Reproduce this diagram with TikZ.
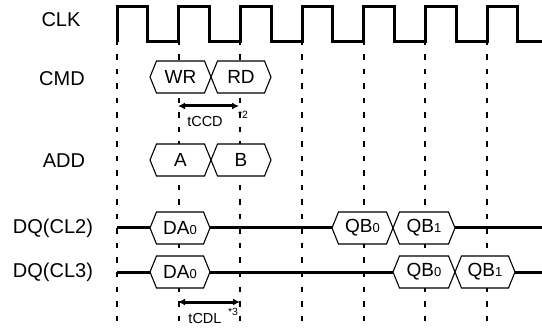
\documentclass[tikz,border=0pt]{standalone}
\usepackage{fontspec}
\setmainfont{Liberation Sans}
\usetikzlibrary{arrows.meta}
\tikzset{
  clkline/.style={line width=3pt, line join=miter},
  sigline/.style={line width=3pt},
  gridline/.style={line width=2.1pt, dash pattern=on 5.5pt off 9pt},
  boxline/.style={line width=1.1pt, fill=white, line join=miter},
  lbl/.style={font=\fontsize{20}{22}\selectfont, inner sep=0pt},
  boxtxt/.style={font=\fontsize{19}{21}\selectfont, inner sep=0pt},
  smalltxt/.style={font=\fontsize{14.5}{16}\selectfont, inner sep=0pt},
  notetxt/.style={font=\fontsize{10.5}{11}\selectfont, inner sep=0pt},
  timearrow/.style={line width=3pt, {Latex[length=7pt,width=7pt]}-{Latex[length=7pt,width=7pt]}},
}
\newcommand{\sdig}[1]{{\fontsize{13}{13}\selectfont #1}}
% hexagon: x1, x2, y, name, text
\newcommand{\hexbox}[5]{%
  \draw[boxline] (#1,#3) -- ({#1+6.5},{#3-16}) -- ({#2-6.5},{#3-16}) -- (#2,#3)
     -- ({#2-6.5},{#3+16}) -- ({#1+6.5},{#3+16}) -- cycle;
  \node[boxtxt] (#4) at ({(#1+#2)/2},#3) {#5};%
}
\begin{document}
\begin{tikzpicture}[x=1pt,y=-1pt]
\useasboundingbox (0,0) rectangle (542,329);
% dashed grid lines
\foreach \k in {0,...,6} {
  \draw[gridline] ({117+61.67*\k},40) -- ({117+61.67*\k},322);
}
% clock
\draw[clkline] (117,42)
  \foreach \k in {0,...,6} {
    -- ({117+61.67*\k},7) -- ({147.8+61.67*\k},7) -- ({147.8+61.67*\k},41.5)
    -- ({117+61.67*(\k+1)},41.5)
  } -- (541,41.5);
% labels
\node[lbl] (lclk) at (61,19.5) {CLK};
\node[lbl] (lcmd) at (62,79) {CMD};
\node[lbl] (ladd) at (64,161) {ADD};
\node[lbl] (lcl2) at (53,228.5) {DQ(CL2)};
\node[lbl] (lcl3) at (53,272.5) {DQ(CL3)};
% signal lines
\draw[sigline] (117,228) -- (150,228);
\draw[sigline] (210,228) -- (332,228);
\draw[sigline] (455,228) -- (542,228);
\draw[sigline] (117,272) -- (150,272);
\draw[sigline] (210,272) -- (393,272);
\draw[sigline] (515,272) -- (542,272);
% CMD
\hexbox{150}{211}{77}{wr}{WR}
\hexbox{211}{271}{77}{rd}{RD}
% ADD
\hexbox{150}{211}{160}{a}{A}
\hexbox{211}{271}{160}{b}{B}
% DQ CL2
\hexbox{150}{210}{228}{da2}{DA\sdig{0}}
\hexbox{332}{393}{228}{qb02}{QB\sdig{0}}
\hexbox{393}{455}{228}{qb12}{QB\sdig{1}}
% DQ CL3
\hexbox{150}{210}{272}{da3}{DA\sdig{0}}
\hexbox{393}{455}{272}{qb03}{QB\sdig{0}}
\hexbox{455}{515}{272}{qb13}{QB\sdig{1}}
% timing arrows
\coordinate (ccdA) at (178,106);
\coordinate (ccdB) at (239,106);
\draw[timearrow] (ccdA) -- (ccdB);
\node[smalltxt] (tccd) at (205,122) {tCCD};
\node[notetxt] (n2) at (243,115) {*2};
\coordinate (cdlA) at (178,302);
\coordinate (cdlB) at (240,302);
\draw[timearrow] (cdlA) -- (cdlB);
\node[smalltxt] (tcdl) at (205,319) {tCDL};
\node[notetxt] (n3) at (233,312) {*3};
\end{tikzpicture}
\end{document}
